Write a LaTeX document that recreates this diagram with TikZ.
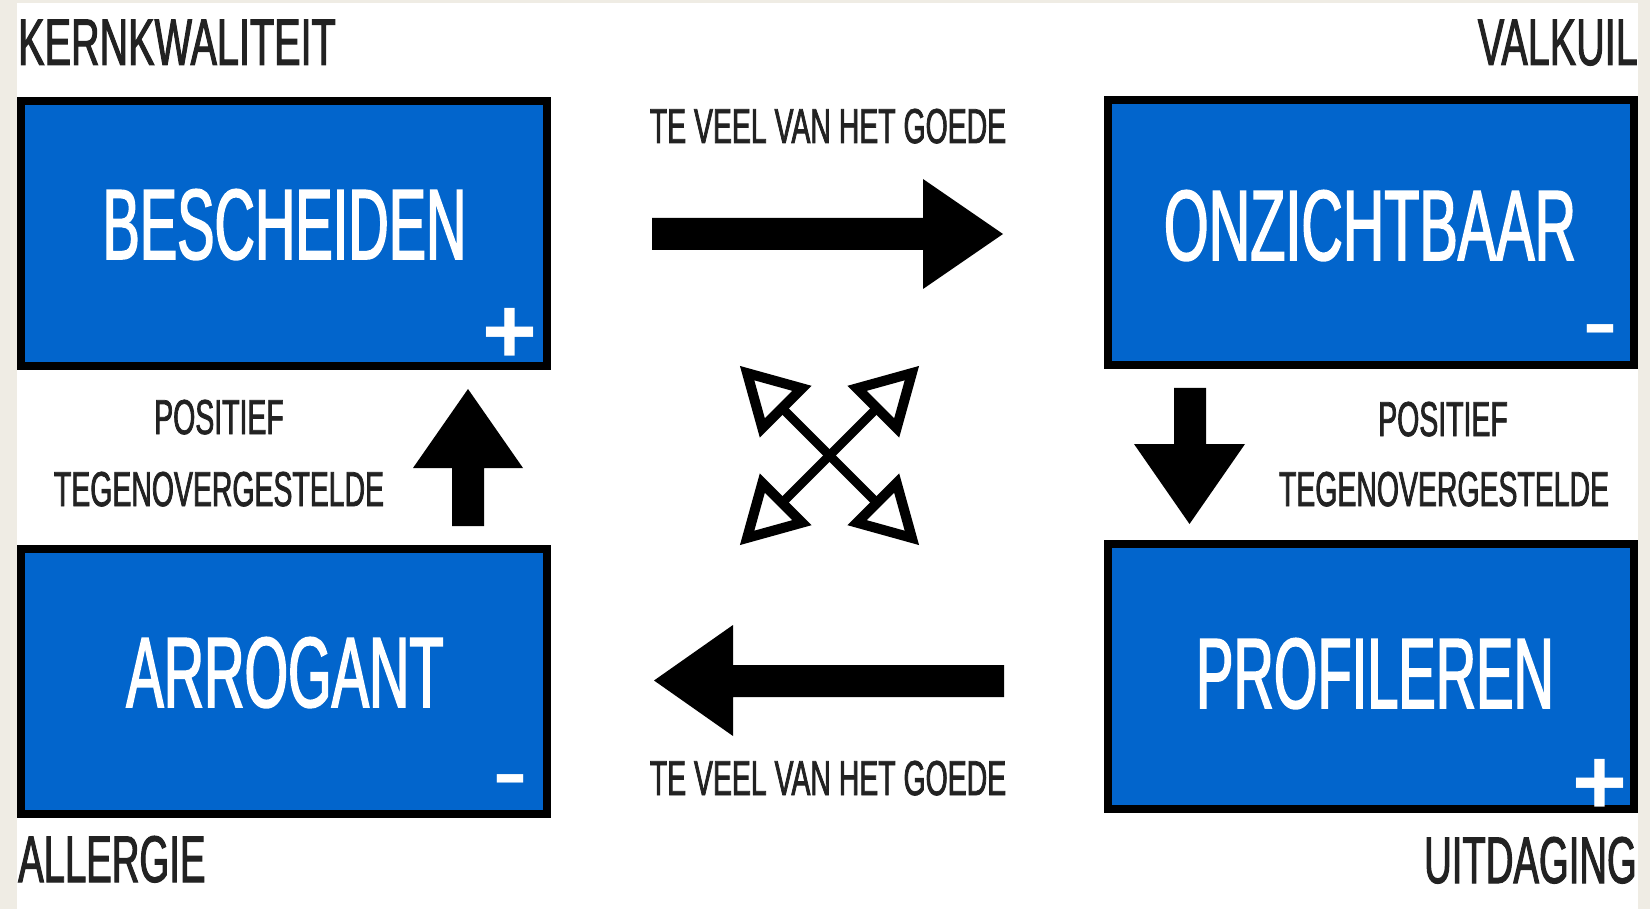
\documentclass[tikz,border=0pt]{standalone}
\usepackage{fontspec}
\newfontfamily\bbA[FakeStretch=0.56,FakeBold=1.5]{Liberation Sans}
\newfontfamily\bbO[FakeStretch=0.575,FakeBold=1.5]{Liberation Sans}
\newfontfamily\bbB[FakeStretch=0.58,FakeBold=1.5]{Liberation Sans}
\newfontfamily\bbC[FakeStretch=0.6,FakeBold=1.5]{Liberation Sans}
\newfontfamily\sgn{Liberation Sans}
\definecolor{boxblue}{RGB}{2,101,204}
\definecolor{beige}{RGB}{239,236,228}
\definecolor{ink}{RGB}{34,34,34}
\begin{document}
\begin{tikzpicture}[x=1pt,y=-1pt,
  box/.style={draw=black, line width=8pt, fill=boxblue, minimum width=526pt, minimum height=265pt, inner sep=0pt},
  boxtext/.style={anchor=base, inner sep=0pt, text=white, font=\bbA\fontsize{100}{100}\selectfont},
  cornerlbl/.style={inner sep=0pt, text=ink, font=\bbC\fontsize{66}{66}\selectfont},
  smalllbl/.style={anchor=base, inner sep=0pt, text=ink, font=\bbB\fontsize{49}{49}\selectfont},
  plussign/.style={anchor=base, inner sep=0pt, text=white, font=\sgn\bfseries\fontsize{94}{94}\selectfont},
  minussign/.style={anchor=base, inner sep=0pt, text=white, font=\sgn\fontsize{108}{108}\selectfont},
  blockarrow/.style={fill=black},
  crosshead/.style={draw=black, line width=10pt, line join=miter, fill=white},
  crossshaft/.style={draw=black, line width=9pt}]
\useasboundingbox (0,0) rectangle (1650,909);
\fill[beige] (0,0) rectangle (1650,909);
\fill[white] (17,3) rectangle (1638,909);

% boxes
\node[box] (bes) at (284,233.5) {};
\node[box] (onz) at (1371,232.5) {};
\node[box] (arr) at (284,681.5) {};
\node[box] (pro) at (1370.5,676.5) {};

\node[boxtext] (tbes) at (284.5,259) {BESCHEIDEN};
\node[boxtext, font=\bbO\fontsize{100}{100}\selectfont] (tonz) at (1370,260) {ONZICHTBAAR};
\node[boxtext] (tarr) at (285,707) {ARROGANT};
\node[boxtext] (tpro) at (1375,708) {PROFILEREN};

\node[plussign] (p1) at (509.5,363.5) {+};
\node[minussign] (m1) at (1600,358) {-};
\node[minussign] (m2) at (510,807) {-};
\node[plussign] (p2) at (1600,814.5) {+};

% corner labels
\node[cornerlbl, anchor=base west] (kern) at (18,65) {KERNKWALITEIT};
\node[cornerlbl, anchor=base east] (valk) at (1638,65) {VALKUIL};
\node[cornerlbl, anchor=base west, font=\bbB\fontsize{66}{66}\selectfont] (alle) at (18,882) {ALLERGIE};
\node[cornerlbl, anchor=base east, font=\bbB\fontsize{66}{66}\selectfont] (uitd) at (1637,883) {UITDAGING};

% middle labels
\node[smalllbl] (tv1) at (828,143) {TE VEEL VAN HET GOEDE};
\node[smalllbl] (tv2) at (828,795) {TE VEEL VAN HET GOEDE};
\node[smalllbl] (posl) at (219,434) {POSITIEF};
\node[smalllbl] (tegl) at (219,506) {TEGENOVERGESTELDE};
\node[smalllbl] (posr) at (1443,436) {POSITIEF};
\node[smalllbl] (tegr) at (1444,506) {TEGENOVERGESTELDE};

% block arrows
\fill[blockarrow] (652,218) -- (923,218) -- (923,179) -- (1003,234) -- (923,289) -- (923,250) -- (652,250) -- cycle;
\fill[blockarrow] (1004,665) -- (733,665) -- (733,625) -- (654,680.5) -- (733,736) -- (733,697) -- (1004,697) -- cycle;
\fill[blockarrow] (452,526) -- (452,468) -- (413,468) -- (468,389) -- (523,468) -- (484,468) -- (484,526) -- cycle;
\fill[blockarrow] (1174,388) -- (1206,388) -- (1206,444) -- (1245,444) -- (1189.5,524) -- (1134,444) -- (1174,444) -- cycle;

% cross of four open arrows
\coordinate (C) at (829.5,455.5);
\begin{scope}[shift={(C)}]
\foreach \a in {45,135,225,315}{
  \draw[crossshaft, rotate=\a] (0,0) -- (67,0);
}
\foreach \a in {45,135,225,315}{
  \draw[crosshead, rotate=\a] (116.5,0) -- (67,28) -- (67,-28) -- cycle;
}
\end{scope}
\end{tikzpicture}
\end{document}
